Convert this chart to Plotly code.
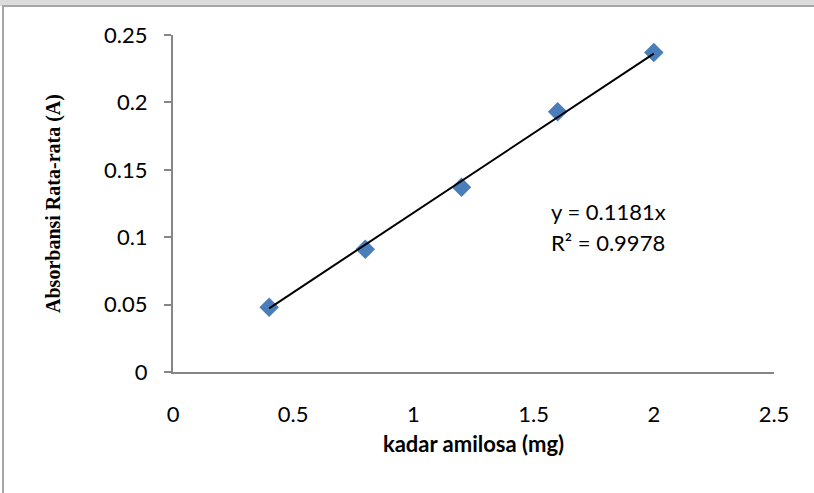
import plotly.graph_objects as go

# Data
kadar_amilosa = [0.4, 0.8, 1.2, 1.6, 2.0]
absorbansi = [0.048, 0.091, 0.137, 0.193, 0.237]
slope = 0.1181
r_squared = 0.9978
x_ticks = [0, 0.5, 1, 1.5, 2, 2.5]
x_tick_labels = ["0", "0.5", "1", "1.5", "2", "2.5"]
y_ticks = [0, 0.05, 0.1, 0.15, 0.2, 0.25]
y_tick_labels = ["0", "0.05", "0.1", "0.15", "0.2", "0.25"]

trend_x = [min(kadar_amilosa), max(kadar_amilosa)]
trend_y = [slope * v for v in trend_x]

W, H = 814, 493
L, R, T, B = 173, 40, 35, 121
pw, ph = W - L - R, H - T - B

def px_x(p):
    return (p - L) / pw

def px_y(p):
    return (H - B - p) / ph

fig = go.Figure()
fig.add_trace(go.Scatter(
    x=kadar_amilosa, y=absorbansi, mode="markers",
    marker=dict(symbol="diamond", size=15, color="#4a7ebb", line=dict(width=0)),
    showlegend=False, cliponaxis=False,
))
fig.add_trace(go.Scatter(
    x=trend_x, y=trend_y, mode="lines",
    line=dict(color="black", width=2),
    showlegend=False, cliponaxis=False,
))

fig.update_layout(
    width=W, height=H,
    margin=dict(l=L, r=R, t=T, b=B),
    paper_bgcolor="white", plot_bgcolor="white",
    font=dict(family="Lato", size=22, color="black"),
    xaxis=dict(
        range=[0, 2.5], tickvals=x_ticks, ticktext=x_tick_labels,
        showgrid=False, zeroline=False, showline=True,
        linecolor="#868686", linewidth=2, ticks="",
        ticklabelstandoff=22,
        title=dict(text="<b>kadar amilosa (mg)</b>", font=dict(family="Lato", size=22), standoff=10),
    ),
    yaxis=dict(
        range=[0, 0.25], tickvals=y_ticks, ticktext=y_tick_labels,
        showgrid=False, zeroline=False, showline=True,
        linecolor="#868686", linewidth=2, ticks="outside", ticklen=7,
        tickcolor="#868686", tickwidth=2, ticklabelstandoff=12,
        title=dict(text="<b>Absorbansi Rata-rata (A)</b>",
                   font=dict(family="Liberation Serif", size=20), standoff=38),
    ),
    shapes=[
        dict(type="rect", xref="paper", yref="paper",
             x0=px_x(0), x1=px_x(W), y0=px_y(6), y1=px_y(-2),
             fillcolor="#dcdcdc", line=dict(width=0), layer="below"),
        dict(type="line", xref="paper", yref="paper",
             x0=px_x(2), x1=px_x(W), y0=px_y(6), y1=px_y(6),
             line=dict(color="#a6a6a6", width=2)),
        dict(type="line", xref="paper", yref="paper",
             x0=px_x(3), x1=px_x(3), y0=px_y(6), y1=px_y(H + 2),
             line=dict(color="#a6a6a6", width=2)),
    ],
    annotations=[
        dict(text=f"y = {slope}x", x=px_x(549), y=px_y(211), xref="paper", yref="paper",
             xanchor="left", yanchor="middle", showarrow=False,
             font=dict(family="Lato", size=22)),
        dict(text=f"R² = {r_squared}", x=px_x(549), y=px_y(242), xref="paper", yref="paper",
             xanchor="left", yanchor="middle", showarrow=False,
             font=dict(family="Lato", size=22)),
    ],
)

fig.write_html("out.html")
